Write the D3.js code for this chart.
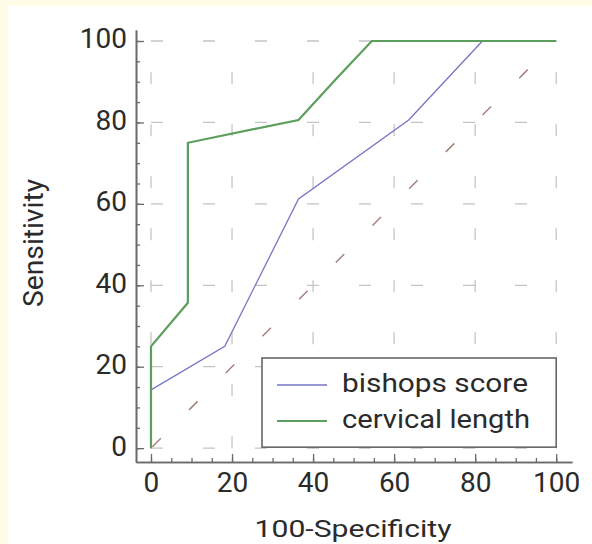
<!DOCTYPE html>
<html><head><meta charset="utf-8">
<script src="https://cdn.jsdelivr.net/npm/d3@7"></script>
<style>
html,body{margin:0;padding:0;background:#fffbe7;}
svg{display:block;}
text{font-family:Roboto,"Noto Sans",sans-serif;fill:#2b2b2b;}
</style></head>
<body>
<script>
// ---- data ----
const seriesNames = ["bishops score", "cervical length"];
const bishopX = [0, 0, 18.2, 36.4, 63.6, 81.8, 100];
const bishopY = [0, 14.3, 25, 61.2, 80.6, 100, 100];
const cervicalX = [0, 0, 9.1, 9.1, 36.4, 45.5, 54.5, 100];
const cervicalY = [0, 25, 35.7, 75, 80.6, 90.5, 100, 100];
const majorTicks = [0, 20, 40, 60, 80, 100];
const minorTicks = d3.range(0, 101, 5);
const xTitle = "100-Specificity";
const yTitle = "Sensitivity";

const W = 592, H = 544;
const svg = d3.select("body").append("svg").attr("width", W).attr("height", H);
svg.append("rect").attr("width", W).attr("height", H).attr("fill", "#fffbe7");
svg.append("rect").attr("x", 8).attr("y", 6).attr("width", W - 8).attr("height", H - 6).attr("fill", "#ffffff");

const x = d3.scaleLinear().domain([-3.7, 103.9]).range([136, 572]);
const y = d3.scaleLinear().domain([-3.4, 102.7]).range([462, 30]);

// grid
const grid = svg.append("g").attr("stroke", "#c4c4c4").attr("stroke-width", 1.3).attr("stroke-dasharray", "12 40");
majorTicks.forEach(v => {
  grid.append("line").attr("x1", x(v)).attr("x2", x(v)).attr("y1", y(0)).attr("y2", y(100));
  grid.append("line").attr("x1", x(0)).attr("x2", x(100)).attr("y1", y(v)).attr("y2", y(v));
});

// diagonal reference
svg.append("line")
  .attr("x1", x(0)).attr("y1", y(0)).attr("x2", x(100)).attr("y2", y(100))
  .attr("stroke", "#a88080").attr("stroke-width", 1.5)
  .attr("stroke-dasharray", "12 40").attr("stroke-dashoffset", -2);

// axes
function styleAxis(g) {
  g.select(".domain").attr("stroke", "#6a6a6a").attr("stroke-width", 1.6);
  g.selectAll(".tick line").attr("stroke", "#6a6a6a").attr("stroke-width", 1.3);
  g.selectAll(".tick text").style("font-size", "28px").attr("fill", "#2b2b2b");
}
const yMinor = svg.append("g").attr("transform", `translate(${x.range()[0]},0)`)
  .call(d3.axisLeft(y).tickValues(minorTicks).tickSize(-4).tickSizeOuter(0).tickFormat(""));
styleAxis(yMinor);
const xMinor = svg.append("g").attr("transform", `translate(0,${y.range()[0]})`)
  .call(d3.axisBottom(x).tickValues(minorTicks).tickSize(-4).tickSizeOuter(0).tickFormat(""));
styleAxis(xMinor);

const yAxis = svg.append("g").attr("transform", `translate(${x.range()[0]},0)`)
  .call(d3.axisLeft(y).tickValues(majorTicks).tickSize(-8).tickSizeOuter(0).tickPadding(9));
styleAxis(yAxis);
yAxis.selectAll(".tick text").attr("dy", "0.25em");
const xAxis = svg.append("g").attr("transform", `translate(0,${y.range()[0]})`)
  .call(d3.axisBottom(x).tickValues(majorTicks).tickSize(-8).tickSizeOuter(0).tickPadding(10));
styleAxis(xAxis);
xAxis.selectAll(".tick text").attr("dy", "0.71em");

// titles
svg.append("text").attr("x", 353).attr("y", 537).attr("text-anchor", "middle")
  .style("font-size", "24px").attr("textLength", 197).attr("lengthAdjust", "spacingAndGlyphs").text(xTitle);
svg.append("text").attr("transform", "translate(43,243) rotate(-90)").attr("text-anchor", "middle")
  .style("font-size", "28px").attr("textLength", 128).attr("lengthAdjust", "spacingAndGlyphs").text(yTitle);

// lines
const line = d3.line().x(d => x(d[0])).y(d => y(d[1]));
const bishop = bishopX.map((v, i) => [v, bishopY[i]]);
const cervical = cervicalX.map((v, i) => [v, cervicalY[i]]);
const colors = ["#7474c4", "#5c9e5c"];
svg.append("path").datum(bishop).attr("d", line).attr("fill", "none")
  .attr("stroke", colors[0]).attr("stroke-width", 1.3);
svg.append("path").datum(cervical).attr("d", line).attr("fill", "none")
  .attr("stroke", colors[1]).attr("stroke-width", 2.2);

// legend
const lx1 = 262, lx2 = x(100), ly1 = 358, ly2 = y(0) - 1;
const leg = svg.append("g");
leg.append("rect").attr("x", lx1).attr("y", ly1).attr("width", lx2 - lx1).attr("height", ly2 - ly1)
  .attr("fill", "#ffffff").attr("stroke", "#666").attr("stroke-width", 1.6);
const rowY = [385, 421];
seriesNames.forEach((name, i) => {
  leg.append("line").attr("x1", 277).attr("x2", 327).attr("y1", rowY[i]).attr("y2", rowY[i])
    .attr("stroke", colors[i]).attr("stroke-width", i === 0 ? 1.3 : 2.2);
  leg.append("text").attr("x", 342).attr("y", rowY[i] + 7).style("font-size", "25px")
    .attr("textLength", i === 0 ? 186 : 188).attr("lengthAdjust", "spacingAndGlyphs").text(name);
});
</script>
</body></html>
